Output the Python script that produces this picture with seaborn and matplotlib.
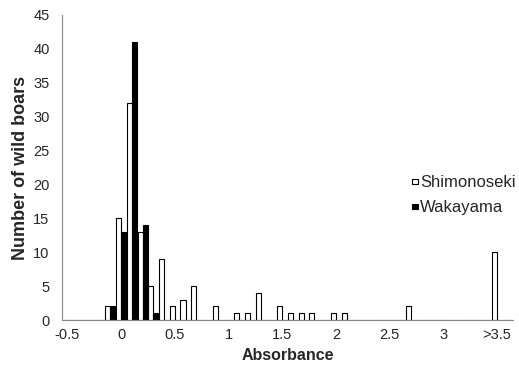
import numpy as np
import pandas as pd
import matplotlib
matplotlib.use("Agg")
import matplotlib.pyplot as plt
import seaborn as sns

# category bins of absorbance (0.1 wide), last labelled ">3.5", one empty slot after it
CATEGORIES = [f"{v:.1f}" for v in np.arange(-5, 41) / 10.0][:40] + [">3.5", ""]
TICK_LABELS = ["-0.5", "0", "0.5", "1", "1.5", "2", "2.5", "3", ">3.5"]

SHIMONOSEKI = [0, 0, 0, 0, 2, 15, 32, 13, 5, 9,
               2, 3, 5, 0, 2, 0, 1, 1, 4, 0,
               2, 1, 1, 1, 0, 1, 1, 0, 0, 0,
               0, 0, 2, 0, 0, 0, 0, 0, 0, 0,
               10, 0]
WAKAYAMA = [0, 0, 0, 0, 2, 13, 41, 14, 1, 0,
            0, 0, 0, 0, 0, 0, 0, 0, 0, 0,
            0, 0, 0, 0, 0, 0, 0, 0, 0, 0,
            0, 0, 0, 0, 0, 0, 0, 0, 0, 0,
            0, 0]

df = pd.DataFrame({
    "bin": CATEGORIES * 2,
    "count": SHIMONOSEKI + WAKAYAMA,
    "site": ["Shimonoseki"] * len(CATEGORIES) + ["Wakayama"] * len(CATEGORIES),
})

sns.set_style("white")
plt.rcParams["font.family"] = ["Liberation Sans", "DejaVu Sans"]

fig = plt.figure(figsize=(5.19, 3.73), dpi=100)
ax = fig.add_axes([0.1195, 0.142, 0.869, 0.818])

sns.barplot(data=df, x="bin", y="count", hue="site", order=CATEGORIES,
            palette={"Shimonoseki": "white", "Wakayama": "black"},
            edgecolor="black", linewidth=0.8, width=0.94, ax=ax)

ax.set_xlim(-0.5, len(CATEGORIES) - 0.5)
ax.set_ylim(0, 45)
ax.set_yticks(range(0, 46, 5))

ax.set_xticks(range(0, 41, 5))
ax.set_xticklabels(TICK_LABELS, fontsize=10.5)
ax.set_xticks(np.arange(-0.5, len(CATEGORIES), 1.0), minor=True)
ax.tick_params(axis="x", which="major", length=0, pad=6)
ax.tick_params(axis="x", which="minor", length=4, color="#888888", width=0.8)
ax.tick_params(axis="y", length=4, color="#888888", width=0.8, labelsize=10.5, pad=5)

for side in ["top", "right"]:
    ax.spines[side].set_visible(False)
for side in ["left", "bottom"]:
    ax.spines[side].set_color("#888888")
    ax.spines[side].set_linewidth(0.8)

ax.set_xlabel("Absorbance", fontsize=11.5, fontweight="bold", labelpad=4)
ax.set_ylabel("Number of wild boars", fontsize=13, fontweight="bold", labelpad=3)

# small square handles: matplotlib adds a descent term to the handle height
leg = ax.legend(loc="center left", bbox_to_anchor=(0.794, 0.476),
                bbox_transform=fig.transFigure, frameon=False, fontsize=12,
                handlelength=0.34, handleheight=0.15, handletextpad=0.15,
                labelspacing=0.6, borderpad=0, borderaxespad=0)
for h in leg.legend_handles:
    h.set_edgecolor("black")
    h.set_linewidth(0.8)

fig.savefig("out.png", dpi=100)
